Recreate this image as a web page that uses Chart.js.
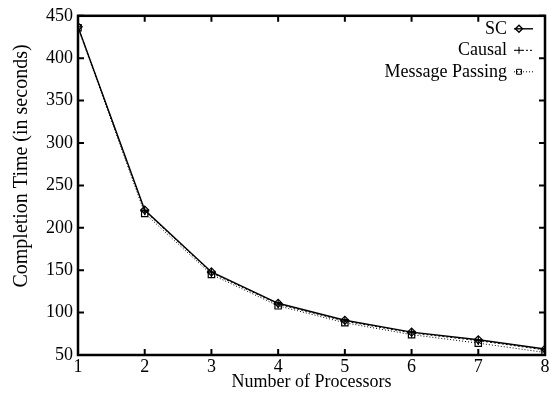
<!DOCTYPE html>
<html>
<head>
<meta charset="utf-8">
<script src="https://cdn.jsdelivr.net/npm/chart.js@4.4.1/dist/chart.umd.min.js"></script>
<style>
  body { margin: 0; background: #fff; }
  #wrap { width: 553px; height: 393px; }
</style>
</head>
<body>
<div id="wrap"><canvas id="chart" width="553" height="393"></canvas></div>
<script>
// data
const processors = [1, 2, 3, 4, 5, 6, 7, 8];
const scTimes = [437, 221, 148, 111, 91, 77, 68, 57];
const causalTimes = [437, 220, 147, 110, 90, 76, 67, 56];
const mpTimes = [436, 217, 145, 108, 88, 74, 64, 53];
const yTicks = [50, 100, 150, 200, 250, 300, 350, 400, 450];
const yTitle = 'Completion Time (in seconds)';

const FONT = 'Liberation Serif, Times New Roman, serif';

function toPoints(vals) {
    return processors.map((p, i) => ({ x: p, y: vals[i] }));
}

// inward ticks on all four sides + frame
const frameTicks = {
    id: 'frameTicks',
    afterDraw(chart) {
        const { ctx, chartArea: a, scales } = chart;
        ctx.save();
        ctx.strokeStyle = '#000';
        ctx.lineWidth = 2;
        processors.forEach(v => {
            const x = scales.x.getPixelForValue(v);
            ctx.beginPath();
            ctx.moveTo(x, a.bottom); ctx.lineTo(x, a.bottom - 6);
            ctx.moveTo(x, a.top); ctx.lineTo(x, a.top + 6);
            ctx.stroke();
        });
        yTicks.forEach(v => {
            const y = scales.y.getPixelForValue(v);
            ctx.beginPath();
            ctx.moveTo(a.left, y); ctx.lineTo(a.left + 6, y);
            ctx.moveTo(a.right, y); ctx.lineTo(a.right - 6, y);
            ctx.stroke();
        });
        ctx.lineWidth = 2.5;
        ctx.strokeRect(a.left, a.top, a.right - a.left, a.bottom - a.top);

        // y axis title, sits a bit above the middle like the original
        ctx.translate(22, 166);
        ctx.rotate(-Math.PI / 2);
        ctx.font = '20px ' + FONT;
        ctx.fillStyle = '#000';
        ctx.textAlign = 'center';
        ctx.textBaseline = 'middle';
        ctx.fillText(yTitle, 0, 0);
        ctx.restore();
    }
};

// gnuplot style key: text then a line sample with marker
const keyBox = {
    id: 'keyBox',
    afterDraw(chart) {
        const { ctx, chartArea: a } = chart;
        ctx.save();
        ctx.font = '18px ' + FONT;
        ctx.textAlign = 'right';
        ctx.textBaseline = 'middle';
        chart.data.datasets.forEach((ds, i) => {
            const y = a.top + 13 + i * 21.5;
            const x1 = a.right - 31, x2 = a.right - 12;
            ctx.fillStyle = '#000';
            ctx.fillText(ds.label, x1 - 7, y);
            ctx.strokeStyle = '#000';
            ctx.lineWidth = ds.borderWidth;
            ctx.setLineDash(ds.borderDash || []);
            ctx.beginPath();
            ctx.moveTo(x1, y); ctx.lineTo(x2, y);
            ctx.stroke();
            ctx.setLineDash([]);
            ctx.fillStyle = 'rgba(255,255,255,0)';
            Chart.helpers.drawPoint(ctx, {
                pointStyle: ds.pointStyle,
                radius: 3.5,
                borderWidth: 1
            }, x1 + 5, y);
        });
        ctx.restore();
    }
};

const ctx = document.getElementById('chart').getContext('2d');
new Chart(ctx, {
    type: 'line',
    data: {
        datasets: [
            {
                label: 'SC',
                data: toPoints(scTimes),
                borderColor: '#000',
                borderWidth: 1.4,
                pointStyle: 'rectRot',
                pointRadius: 4,
                pointBorderWidth: 1.2,
                pointBackgroundColor: 'rgba(255,255,255,0)'
            },
            {
                label: 'Causal',
                data: toPoints(causalTimes),
                borderColor: '#000',
                borderWidth: 1,
                borderDash: [2, 2],
                pointStyle: 'cross',
                pointRadius: 4.5,
                pointBorderWidth: 1.2
            },
            {
                label: 'Message Passing',
                data: toPoints(mpTimes),
                borderColor: '#000',
                borderWidth: 1,
                borderDash: [1, 2],
                pointStyle: 'rect',
                pointRadius: 4.5,
                pointBorderWidth: 1.2,
                pointBackgroundColor: 'rgba(255,255,255,0)'
            }
        ]
    },
    options: {
        responsive: false,
        animation: false,
        layout: { padding: { top: 15, right: 8, left: 0, bottom: 0 } },
        plugins: { legend: { display: false }, tooltip: { enabled: false } },
        scales: {
            x: {
                type: 'linear',
                min: 1, max: 8,
                afterFit(s) { s.height = 38; },
                grid: { display: false, drawTicks: false },
                border: { display: false },
                ticks: { stepSize: 1, color: '#000', padding: 1, font: { family: FONT, size: 18 } },
                title: {
                    display: true, text: 'Number of Processors', color: '#000',
                    padding: { top: -9, bottom: 0 },
                    font: { family: FONT, size: 18 }
                }
            },
            y: {
                min: 50, max: 450,
                afterFit(s) { s.width = 78; },
                grid: { display: false, drawTicks: false },
                border: { display: false },
                ticks: { stepSize: 50, color: '#000', padding: 5, font: { family: FONT, size: 18 } },
                title: { display: false }
            }
        }
    },
    plugins: [frameTicks, keyBox]
});
</script>
</body>
</html>
